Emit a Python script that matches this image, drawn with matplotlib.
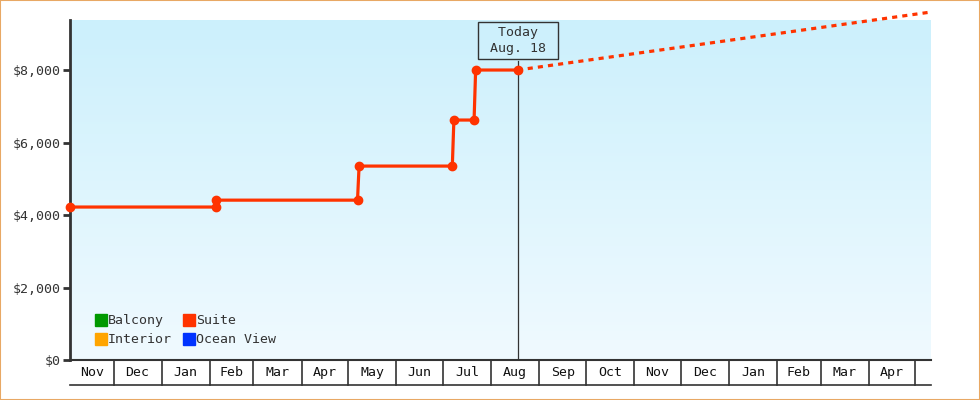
import numpy as np
import matplotlib
matplotlib.use("Agg")
import matplotlib.pyplot as plt
import matplotlib.dates as mdates
import matplotlib.transforms as mtransforms

# Suite price history (step points) and forecast
hist_dates = ["2024-11-03", "2025-02-05", "2025-02-05", "2025-05-07", "2025-05-08",
              "2025-07-07", "2025-07-08", "2025-07-21", "2025-07-22", "2025-08-18"]
hist_prices = [4220, 4220, 4410, 4410, 5350, 5350, 6620, 6620, 8000, 8000]
fc_dates = ["2025-08-18", "2026-05-11"]
fc_prices = [8000, 9600]

today = "2025-08-18"
today_label = " Today \n Aug. 18 "

month_starts = ["2024-11-01", "2024-12-01", "2025-01-01", "2025-02-01", "2025-03-01",
                "2025-04-01", "2025-05-01", "2025-06-01", "2025-07-01", "2025-08-01",
                "2025-09-01", "2025-10-01", "2025-11-01", "2025-12-01", "2026-01-01",
                "2026-02-01", "2026-03-01", "2026-04-01", "2026-05-01"]
month_labels = ["Nov", "Dec", "Jan", "Feb", "Mar", "Apr", "May", "Jun", "Jul", "Aug",
                "Sep", "Oct", "Nov", "Dec", "Jan", "Feb", "Mar", "Apr"]
x_start = "2024-11-03"
x_end = "2026-05-11"

legend_names = ["Balcony", "Interior", "Suite", "Ocean View"]
legend_colors = ["#009900", "#ffa500", "#ff3300", "#0033ff"]

y_ticks = [0, 2000, 4000, 6000, 8000]
y_max = 9380

suite_color = "#ff3300"
dark = "#333333"
mono = "DejaVu Sans Mono"

to_num = lambda s: mdates.date2num(np.datetime64(s))

fig = plt.figure(figsize=(9.8, 4), dpi=100)
fig.patch.set_facecolor("white")
fig.patches.append(plt.Rectangle((0.0005, 0.001), 0.999, 0.998, transform=fig.transFigure,
                                 fill=False, edgecolor="#e8a864", linewidth=1.5))
ax = fig.add_axes([70 / 980, 40 / 400, 861 / 980, 340 / 400])

x0, x1 = to_num(x_start), to_num(x_end)
ax.set_xlim(x0, x1)
ax.set_ylim(0, y_max)

# gradient background
grad = np.linspace(0, 1, 256).reshape(-1, 1)
top = np.array([204, 240, 252]) / 255
bot = np.array([240, 250, 255]) / 255
img = bot + (top - bot) * grad
ax.imshow(img.reshape(256, 1, 3), extent=[x0, x1, 0, y_max], origin="lower",
          aspect="auto", zorder=0)

# suite history and forecast
hx = [to_num(d) for d in hist_dates]
ax.plot(hx, hist_prices, color=suite_color, lw=2.3, marker="o", ms=6,
        solid_joinstyle="miter", clip_on=False, zorder=4)
fx = [to_num(d) for d in fc_dates]
ax.plot(fx, fc_prices, color=suite_color, lw=2.3, linestyle=(0, (1.6, 1.6)),
        clip_on=False, zorder=4)

# today marker
tx = to_num(today)
ax.plot([tx, tx], [0, y_max * 0.88], color=dark, lw=0.9, zorder=3)
ax.text(tx, y_max * 0.941, today_label, ha="center", va="center", fontsize=9.5,
        family=mono, color=dark, linespacing=1.3, zorder=5,
        bbox=dict(boxstyle="square,pad=0.3", fc="none", ec=dark, lw=1))

# axes styling
for s in ["top", "right"]:
    ax.spines[s].set_visible(False)
ax.spines["left"].set_linewidth(2)
ax.spines["left"].set_color(dark)
ax.spines["bottom"].set_linewidth(1.5)
ax.spines["bottom"].set_color(dark)
ax.set_yticks(y_ticks)
ax.set_yticklabels(["$" + format(v, ",") for v in y_ticks])
ax.tick_params(axis="y", length=5, width=2, color=dark, labelcolor=dark, pad=2,
               labelsize=9.5)
for lbl in ax.get_yticklabels():
    lbl.set_family(mono)
ax.set_xticks([])

# month boxes under the axis
trans = mtransforms.blended_transform_factory(ax.transData, ax.transAxes)
box_h = 25 / 340
ms = [max(to_num(d), x0) for d in month_starts]
for m in ms[1:]:
    ax.plot([m, m], [0, -box_h], transform=trans, color=dark, lw=1.2, clip_on=False)
ax.plot([x0, x1], [-box_h, -box_h], transform=trans, color=dark, lw=1.2, clip_on=False)
for a, b, lab in zip(ms[:-1], ms[1:], month_labels):
    ax.text((a + b) / 2, -box_h / 2, lab, transform=trans, ha="center", va="center",
            fontsize=9.5, family=mono, color="#111111")

# legend
handles = [plt.Line2D([], [], marker="s", ls="none", ms=8, color=c) for c in legend_colors]
leg = ax.legend(handles, legend_names, ncol=2, loc="lower left",
                bbox_to_anchor=(0.018, 0.005), frameon=False, handlelength=0.6,
                handletextpad=0.2, columnspacing=1.0, labelspacing=0.45,
                prop={"family": mono, "size": 9.5})
for t in leg.get_texts():
    t.set_color(dark)

fig.savefig("out.png", dpi=100)
